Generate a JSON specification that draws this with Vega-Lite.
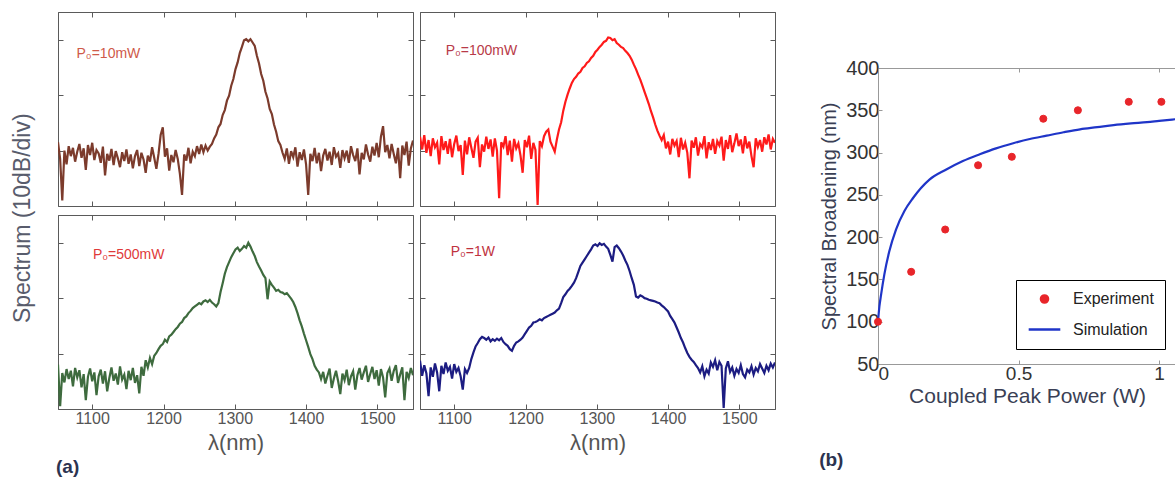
{
"$schema": "https://vega.github.io/schema/vega-lite/v6.json",
"padding": {"left": 11, "top": 11, "right": 0, "bottom": 0},
"background": "white",
"config": {
  "font": "Liberation Sans",
  "view": {"stroke": "#666", "strokeWidth": 1},
  "axis": {"grid": false, "domainColor": "#5a5a5a", "tickColor": "#5a5a5a", "labelFont": "Liberation Sans", "titleFont": "Liberation Sans", "titleFontWeight": "normal", "labelColor": "#555", "titleColor": "#555"},
  "title": {"font": "Liberation Sans"},
  "legend": {"labelFont": "Liberation Sans"}
},
"datasets": {
"spec": [
{"w":1052,"a":-18.5,"b":-17.5,"c":-22,"d":-21.3},
{"w":1055,"a":-21.5,"b":-19.8,"c":-29.5,"d":-24},
{"w":1058,"a":-29,"b":-17.2,"c":-23.5,"d":-22.1},
{"w":1061,"a":-20,"b":-20.4,"c":-25.2,"d":-23.6},
{"w":1064,"a":-22.5,"b":-18.1,"c":-22.8,"d":-27.7},
{"w":1067,"a":-19.2,"b":-21,"c":-24.6,"d":-22.5},
{"w":1070,"a":-21,"b":-17.8,"c":-23.1,"d":-24.2},
{"w":1073,"a":-19.5,"b":-19.4,"c":-25.9,"d":-21.8},
{"w":1076,"a":-22,"b":-18.6,"c":-22.6,"d":-23.4},
{"w":1079,"a":-20.2,"b":-22.5,"c":-24.3,"d":-26.8},
{"w":1082,"a":-18.8,"b":-17.4,"c":-23,"d":-22.2},
{"w":1085,"a":-21.3,"b":-19.9,"c":-26.1,"d":-23.7},
{"w":1088,"a":-19.6,"b":-18.3,"c":-23.7,"d":-21.6},
{"w":1091,"a":-23.5,"b":-20.6,"c":-28.4,"d":-23.1},
{"w":1094,"a":-19,"b":-17.9,"c":-24.2,"d":-22.4},
{"w":1097,"a":-20.8,"b":-21.2,"c":-22.7,"d":-24.5},
{"w":1100,"a":-18.6,"b":-18.8,"c":-25,"d":-21.9},
{"w":1103,"a":-21.7,"b":-17.3,"c":-23.4,"d":-23.3},
{"w":1106,"a":-19.9,"b":-20.1,"c":-27.5,"d":-22.6},
{"w":1109,"a":-20.5,"b":-19,"c":-24.1,"d":-24.1},
{"w":1112,"a":-22.2,"b":-24.4,"c":-22.9,"d":-26.5},
{"w":1115,"a":-19.3,"b":-18.2,"c":-25.4,"d":-22.8},
{"w":1118,"a":-24.5,"b":-20.7,"c":-23.2,"d":-23.5},
{"w":1121,"a":-20.6,"b":-17.6,"c":-26.8,"d":-22.6},
{"w":1124,"a":-21.8,"b":-19.5,"c":-24.4,"d":-21},
{"w":1127,"a":-19.7,"b":-21.3,"c":-22.5,"d":-19.8},
{"w":1130,"a":-22.6,"b":-18.4,"c":-24.9,"d":-18.7},
{"w":1133,"a":-20.1,"b":-17.7,"c":-23.6,"d":-18.1},
{"w":1136,"a":-21.4,"b":-23,"c":-25.6,"d":-17.4},
{"w":1139,"a":-23,"b":-18.9,"c":-22.3,"d":-17},
{"w":1142,"a":-20.3,"b":-20.2,"c":-24.7,"d":-17.2},
{"w":1145,"a":-21.9,"b":-17.5,"c":-23.8,"d":-17.5},
{"w":1148,"a":-19.8,"b":-19.7,"c":-26.4,"d":-17.1},
{"w":1151,"a":-22.4,"b":-18,"c":-23.1,"d":-17.8},
{"w":1154,"a":-20.7,"b":-21.1,"c":-24.8,"d":-17.4},
{"w":1157,"a":-23.2,"b":-17.8,"c":-22.6,"d":-17.7},
{"w":1160,"a":-21,"b":-20,"c":-25.3,"d":-17.3},
{"w":1163,"a":-19.9,"b":-28.6,"c":-23.9,"d":-17.6},
{"w":1166,"a":-22.8,"b":-18.5,"c":-27.2,"d":-17.2},
{"w":1169,"a":-20.4,"b":-19.3,"c":-22.4,"d":-17.9},
{"w":1172,"a":-21.6,"b":-17.4,"c":-24,"d":-18.3},
{"w":1175,"a":-24,"b":-20.8,"c":-21.2,"d":-18.6},
{"w":1178,"a":-20.9,"b":-18.2,"c":-22.5,"d":-19.2},
{"w":1181,"a":-22,"b":-22,"c":-20.8,"d":-19.5},
{"w":1184,"a":-19.4,"b":-17.9,"c":-21.9,"d":-18.6},
{"w":1187,"a":-21.3,"b":-19.6,"c":-20.4,"d":-18},
{"w":1190,"a":-23.3,"b":-18.7,"c":-19.9,"d":-17.8},
{"w":1193,"a":-20.6,"b":-20.9,"c":-19.2,"d":-17.5},
{"w":1196,"a":-17.2,"b":-24,"c":-18.6,"d":-17.1},
{"w":1199,"a":-15.8,"b":-18.1,"c":-18.3,"d":-16.5},
{"w":1202,"a":-21.1,"b":-19.4,"c":-17.5,"d":-15.9},
{"w":1205,"a":-19.6,"b":-17.3,"c":-17.9,"d":-15.3},
{"w":1208,"a":-23.6,"b":-21.5,"c":-16.9,"d":-15},
{"w":1211,"a":-20.8,"b":-18.6,"c":-16.6,"d":-14.4},
{"w":1214,"a":-22.1,"b":-19.9,"c":-16.1,"d":-14.3},
{"w":1217,"a":-19.9,"b":-29.8,"c":-15.6,"d":-14.1},
{"w":1220,"a":-21.5,"b":-18.3,"c":-15.2,"d":-13.8},
{"w":1223,"a":-24.2,"b":-19.2,"c":-14.6,"d":-14},
{"w":1226,"a":-28,"b":-17.4,"c":-14.3,"d":-13.6},
{"w":1229,"a":-20.7,"b":-16.6,"c":-13.6,"d":-13.4},
{"w":1232,"a":-21.8,"b":-16.2,"c":-13.3,"d":-13.2},
{"w":1235,"a":-19.5,"b":-18.4,"c":-12.7,"d":-13},
{"w":1238,"a":-22.3,"b":-19.3,"c":-12.3,"d":-12.8},
{"w":1241,"a":-20.2,"b":-20.2,"c":-11.8,"d":-12.6},
{"w":1244,"a":-21,"b":-18,"c":-11.5,"d":-12.2},
{"w":1247,"a":-19.2,"b":-16.2,"c":-11.2,"d":-11.9},
{"w":1250,"a":-20.6,"b":-14.9,"c":-10.9,"d":-10.9},
{"w":1253,"a":-18.9,"b":-12.8,"c":-11.1,"d":-9.8},
{"w":1256,"a":-20.3,"b":-11.2,"c":-10.6,"d":-9.3},
{"w":1259,"a":-19.1,"b":-9.9,"c":-10.4,"d":-8.7},
{"w":1262,"a":-20,"b":-8.8,"c":-10.7,"d":-8.3},
{"w":1265,"a":-19.3,"b":-7.8,"c":-10.3,"d":-7.8},
{"w":1268,"a":-18.8,"b":-7.1,"c":-10.8,"d":-7.2},
{"w":1271,"a":-17.8,"b":-6.7,"c":-11.1,"d":-6.4},
{"w":1274,"a":-17.1,"b":-6.1,"c":-11.5,"d":-5.3},
{"w":1277,"a":-15.8,"b":-5.8,"c":-10.9,"d":-4.2},
{"w":1280,"a":-15.2,"b":-5.1,"c":-8.9,"d":-3.6},
{"w":1283,"a":-13.6,"b":-4.8,"c":-7.3,"d":-3},
{"w":1286,"a":-12.7,"b":-4.2,"c":-5.6,"d":-2.4},
{"w":1289,"a":-11,"b":-3.9,"c":-4.4,"d":-1.8},
{"w":1292,"a":-10.1,"b":-3.3,"c":-3.5,"d":-1.2},
{"w":1295,"a":-8.3,"b":-2.9,"c":-2.6,"d":-0.5},
{"w":1298,"a":-7.1,"b":-2.2,"c":-1.9,"d":-0.3},
{"w":1301,"a":-5.3,"b":-1.8,"c":-1.2,"d":-0.6},
{"w":1304,"a":-4.1,"b":-1.3,"c":-0.9,"d":-0.1},
{"w":1307,"a":-2.4,"b":-0.9,"c":-1.5,"d":-0.4},
{"w":1310,"a":-1.3,"b":-0.4,"c":-1.1,"d":-0.2},
{"w":1313,"a":-0.1,"b":-0.2,"c":-0.6,"d":-0.7},
{"w":1316,"a":0.1,"b":0.4,"c":-0.9,"d":-1.1},
{"w":1319,"a":-0.3,"b":0.3,"c":0,"d":-2.2},
{"w":1322,"a":0.1,"b":-0.1,"c":-0.7,"d":-3.4},
{"w":1325,"a":-0.5,"b":0.1,"c":-1.6,"d":-0.8},
{"w":1328,"a":-1.1,"b":-0.6,"c":-2.4,"d":-0.5},
{"w":1331,"a":-2.9,"b":-0.9,"c":-3.5,"d":-1},
{"w":1334,"a":-4.3,"b":-1.3,"c":-4.3,"d":-1.6},
{"w":1337,"a":-6.2,"b":-1.5,"c":-5,"d":-2.3},
{"w":1340,"a":-7.4,"b":-2,"c":-5.8,"d":-3.2},
{"w":1343,"a":-9.4,"b":-2.4,"c":-6.4,"d":-4},
{"w":1346,"a":-10.6,"b":-2.9,"c":-10.2,"d":-5.1},
{"w":1349,"a":-12.5,"b":-3.6,"c":-7,"d":-6.4},
{"w":1352,"a":-13.4,"b":-4.5,"c":-7.6,"d":-7.6},
{"w":1355,"a":-15.3,"b":-5.3,"c":-8.1,"d":-9.7},
{"w":1358,"a":-16.6,"b":-6.3,"c":-8.7,"d":-9.9},
{"w":1361,"a":-18.3,"b":-7.2,"c":-8.5,"d":-9.5},
{"w":1364,"a":-19,"b":-8.3,"c":-8.9,"d":-9.7},
{"w":1367,"a":-20.4,"b":-9.4,"c":-9,"d":-10},
{"w":1370,"a":-21.5,"b":-10.5,"c":-9.3,"d":-10.1},
{"w":1373,"a":-19.6,"b":-11.6,"c":-9.1,"d":-10.3},
{"w":1376,"a":-22.4,"b":-12.9,"c":-9.6,"d":-10.4},
{"w":1379,"a":-20.1,"b":-14,"c":-10.1,"d":-10.5},
{"w":1382,"a":-21.2,"b":-15.3,"c":-10.7,"d":-10.6},
{"w":1385,"a":-19.4,"b":-16.4,"c":-11.6,"d":-10.8},
{"w":1388,"a":-22.9,"b":-17.3,"c":-12.7,"d":-10.9},
{"w":1391,"a":-20.3,"b":-18.1,"c":-14,"d":-11.3},
{"w":1394,"a":-21.7,"b":-17.2,"c":-15.1,"d":-11.6},
{"w":1397,"a":-19.8,"b":-19.6,"c":-16.4,"d":-12},
{"w":1400,"a":-22.5,"b":-18.4,"c":-17.6,"d":-12.4},
{"w":1403,"a":-28,"b":-20.7,"c":-18.8,"d":-13.2},
{"w":1406,"a":-20.6,"b":-17.9,"c":-20.1,"d":-13.8},
{"w":1409,"a":-21.9,"b":-19.1,"c":-21,"d":-14.4},
{"w":1412,"a":-19.5,"b":-18.3,"c":-22.2,"d":-15.3},
{"w":1415,"a":-22.3,"b":-21.2,"c":-22.9,"d":-16.2},
{"w":1418,"a":-20.4,"b":-17.7,"c":-23.4,"d":-17.2},
{"w":1421,"a":-23.7,"b":-19.8,"c":-24.6,"d":-18},
{"w":1424,"a":-20.9,"b":-18.6,"c":-23.3,"d":-19},
{"w":1427,"a":-19.7,"b":-20.4,"c":-25.4,"d":-19.9},
{"w":1430,"a":-21.8,"b":-25,"c":-24,"d":-20.6},
{"w":1433,"a":-20.2,"b":-18.2,"c":-22.7,"d":-21.1},
{"w":1436,"a":-22.6,"b":-19.5,"c":-26.2,"d":-21.5},
{"w":1439,"a":-19.4,"b":-17.6,"c":-24.5,"d":-22.1},
{"w":1442,"a":-21.1,"b":-20.9,"c":-23.1,"d":-22.6},
{"w":1445,"a":-20.5,"b":-18.8,"c":-25,"d":-23.4},
{"w":1448,"a":-23.1,"b":-19.4,"c":-27.3,"d":-22.3},
{"w":1451,"a":-19.9,"b":-17.4,"c":-23.6,"d":-24.1},
{"w":1454,"a":-21.4,"b":-21.4,"c":-24.8,"d":-22.9},
{"w":1457,"a":-20,"b":-18.5,"c":-22.9,"d":-23.6},
{"w":1460,"a":-22.2,"b":-19.9,"c":-25.7,"d":-21.6},
{"w":1463,"a":-19.2,"b":-17.9,"c":-24.1,"d":-22.4},
{"w":1466,"a":-20.8,"b":-20.6,"c":-23.2,"d":-21.2},
{"w":1469,"a":-21.9,"b":-18.3,"c":-26.5,"d":-23},
{"w":1472,"a":-19.6,"b":-19.1,"c":-23.9,"d":-21.5},
{"w":1475,"a":-24.3,"b":-17.5,"c":-22.6,"d":-22.2},
{"w":1478,"a":-20.4,"b":-21.8,"c":-24.7,"d":-29.8},
{"w":1481,"a":-21.6,"b":-18.1,"c":-23.4,"d":-22.7},
{"w":1484,"a":-18.9,"b":-19.7,"c":-22.2,"d":-21.4},
{"w":1487,"a":-20.7,"b":-17.2,"c":-25.1,"d":-23.3},
{"w":1490,"a":-22,"b":-20.3,"c":-23.7,"d":-22.5},
{"w":1493,"a":-19.3,"b":-18.7,"c":-22.4,"d":-24},
{"w":1496,"a":-20.9,"b":-16.9,"c":-24.6,"d":-22.8},
{"w":1499,"a":-18.6,"b":-19.2,"c":-23,"d":-23.5},
{"w":1502,"a":-21.2,"b":-18,"c":-25.8,"d":-22.1},
{"w":1505,"a":-17.5,"b":-20.5,"c":-22.8,"d":-23.7},
{"w":1508,"a":-15.6,"b":-17.4,"c":-24.3,"d":-24.3},
{"w":1511,"a":-20.3,"b":-19.6,"c":-27.9,"d":-22.9},
{"w":1514,"a":-19,"b":-18.4,"c":-23.5,"d":-23.4},
{"w":1517,"a":-21.4,"b":-21,"c":-22.7,"d":-22.3},
{"w":1520,"a":-18.8,"b":-23,"c":-24.9,"d":-23.8},
{"w":1523,"a":-20.6,"b":-17.8,"c":-23.1,"d":-22.6},
{"w":1526,"a":-22.3,"b":-19.3,"c":-22.1,"d":-23.2},
{"w":1529,"a":-19.5,"b":-18.1,"c":-25.3,"d":-21.9},
{"w":1532,"a":-25,"b":-20.2,"c":-23.8,"d":-22.7},
{"w":1535,"a":-19.1,"b":-17.6,"c":-22.5,"d":-23.5},
{"w":1538,"a":-20.8,"b":-18.9,"c":-28.4,"d":-22.2},
{"w":1541,"a":-18.4,"b":-17.1,"c":-23.3,"d":-23},
{"w":1544,"a":-22.7,"b":-19.8,"c":-24.4,"d":-21.8},
{"w":1547,"a":-19.6,"b":-17.9,"c":-22.6,"d":-22.5},
{"w":1550,"a":-18.2,"b":-18.6,"c":-23.9,"d":-21.6}
],
"exp": [
{"p":0,"bw":100,"series":"Experiment"},
{"p":0.118,"bw":159,"series":"Experiment"},
{"p":0.239,"bw":209,"series":"Experiment"},
{"p":0.356,"bw":285,"series":"Experiment"},
{"p":0.476,"bw":295,"series":"Experiment"},
{"p":0.588,"bw":340,"series":"Experiment"},
{"p":0.711,"bw":350,"series":"Experiment"},
{"p":0.892,"bw":360,"series":"Experiment"},
{"p":1.008,"bw":360,"series":"Experiment"}
],
"sim": [
{"p":0,"bw":100,"series":"Simulation"},
{"p":0.005,"bw":118,"series":"Simulation"},
{"p":0.011,"bw":132,"series":"Simulation"},
{"p":0.0226,"bw":156,"series":"Simulation"},
{"p":0.04,"bw":183,"series":"Simulation"},
{"p":0.064,"bw":209,"series":"Simulation"},
{"p":0.094,"bw":231,"series":"Simulation"},
{"p":0.124,"bw":246,"series":"Simulation"},
{"p":0.183,"bw":268,"series":"Simulation"},
{"p":0.243,"bw":280,"series":"Simulation"},
{"p":0.302,"bw":290,"series":"Simulation"},
{"p":0.362,"bw":298,"series":"Simulation"},
{"p":0.42,"bw":305,"series":"Simulation"},
{"p":0.481,"bw":311,"series":"Simulation"},
{"p":0.54,"bw":316,"series":"Simulation"},
{"p":0.6,"bw":320,"series":"Simulation"},
{"p":0.66,"bw":324,"series":"Simulation"},
{"p":0.719,"bw":327.5,"series":"Simulation"},
{"p":0.78,"bw":330,"series":"Simulation"},
{"p":0.838,"bw":332.5,"series":"Simulation"},
{"p":0.9,"bw":334.5,"series":"Simulation"},
{"p":0.957,"bw":336,"series":"Simulation"},
{"p":1.0,"bw":337.5,"series":"Simulation"},
{"p":1.06,"bw":339.5,"series":"Simulation"}
]
},
"spacing": 43,
"resolve": {"scale": {"stroke": "independent", "fill": "independent", "shape": "independent", "size": "independent"}},
"hconcat": [
{
 "title": {"text": "(a)", "orient": "bottom", "anchor": "start", "fontSize": 19, "fontWeight": "bold", "color": "#2b3350", "offset": 4, "dx": 44},
 "vconcat": [
 {
  "title": {"text": "Spectrum (10dB/div)", "orient": "left", "anchor": "middle", "fontSize": 23, "fontWeight": "normal", "color": "#585c6c", "offset": 22, "dx": 14},
  "spacing": 7,
  "vconcat": [
   {"spacing": 5, "hconcat": [
    {"width": 355, "height": 194,
     "layer": [
      {"data": {"name": "spec"},
       "mark": {"type": "line", "color": "#7c3b2c", "strokeWidth": 2.2, "clip": true},
       "encoding": {
        "x": {"field": "w", "type": "quantitative", "scale": {"domain": [1052, 1550], "nice": false, "zero": false}, "axis": {"orient": "bottom", "values": [1100,1200,1300,1400,1500], "tickSize": -5, "labels": false, "title": null}},
        "y": {"field": "a", "type": "quantitative", "scale": {"domain": [-30, 5], "nice": false, "zero": false}, "axis": {"orient": "left", "values": [0,-10,-20], "tickSize": -5, "labels": false, "title": null}}
       }},
      {"data": {"values": [{}]},
       "mark": {"type": "text", "align": "left", "baseline": "alphabetic", "fontSize": 14, "color": "#cf5a4a"},
       "encoding": {
        "x": {"datum": 1078, "type": "quantitative", "axis": {"orient": "top", "values": [1100,1200,1300,1400,1500], "tickSize": -5, "labels": false, "title": null}},
        "y": {"datum": -3.3, "type": "quantitative", "axis": {"orient": "right", "values": [0,-10,-20], "tickSize": -5, "labels": false, "title": null}},
        "text": {"value": "P₀=10mW"}
       }}
     ],
     "resolve": {"axis": {"x": "independent", "y": "independent"}}
    },
    {"width": 355, "height": 194,
     "layer": [
      {"data": {"name": "spec"},
       "mark": {"type": "line", "color": "#ff1a1a", "strokeWidth": 2.2, "clip": true},
       "encoding": {
        "x": {"field": "w", "type": "quantitative", "scale": {"domain": [1052, 1550], "nice": false, "zero": false}, "axis": {"orient": "bottom", "values": [1100,1200,1300,1400,1500], "tickSize": -5, "labels": false, "title": null}},
        "y": {"field": "b", "type": "quantitative", "scale": {"domain": [-30, 5], "nice": false, "zero": false}, "axis": {"orient": "left", "values": [0,-10,-20], "tickSize": -5, "labels": false, "title": null}}
       }},
      {"data": {"values": [{}]},
       "mark": {"type": "text", "align": "left", "baseline": "alphabetic", "fontSize": 14, "color": "#b83a48"},
       "encoding": {
        "x": {"datum": 1088, "type": "quantitative", "axis": {"orient": "top", "values": [1100,1200,1300,1400,1500], "tickSize": -5, "labels": false, "title": null}},
        "y": {"datum": -2.7, "type": "quantitative", "axis": {"orient": "right", "values": [0,-10,-20], "tickSize": -5, "labels": false, "title": null}},
        "text": {"value": "P₀=100mW"}
       }}
     ],
     "resolve": {"axis": {"x": "independent", "y": "independent"}}
    }
   ]},
   {"spacing": 5, "hconcat": [
    {"width": 355, "height": 194,
     "layer": [
      {"data": {"name": "spec"},
       "mark": {"type": "line", "color": "#3e6b3e", "strokeWidth": 2.2, "clip": true},
       "encoding": {
        "x": {"field": "w", "type": "quantitative", "scale": {"domain": [1052, 1550], "nice": false, "zero": false}, "axis": {"orient": "bottom", "values": [1100,1200,1300,1400,1500], "format": "d", "tickSize": -5, "labels": true, "labelFontSize": 16, "labelDx": -6, "labelPadding": 6, "title": "λ(nm)", "titleFontSize": 22, "titlePadding": 6}},
        "y": {"field": "c", "type": "quantitative", "scale": {"domain": [-30, 5], "nice": false, "zero": false}, "axis": {"orient": "left", "values": [0,-10,-20], "tickSize": -5, "labels": false, "title": null}}
       }},
      {"data": {"values": [{}]},
       "mark": {"type": "text", "align": "left", "baseline": "alphabetic", "fontSize": 14, "color": "#e03a3a"},
       "encoding": {
        "x": {"datum": 1101, "type": "quantitative", "axis": {"orient": "top", "values": [1100,1200,1300,1400,1500], "tickSize": -5, "labels": false, "title": null}},
        "y": {"datum": -2.9, "type": "quantitative", "axis": {"orient": "right", "values": [0,-10,-20], "tickSize": -5, "labels": false, "title": null}},
        "text": {"value": "P₀=500mW"}
       }}
     ],
     "resolve": {"axis": {"x": "independent", "y": "independent"}}
    },
    {"width": 355, "height": 194,
     "layer": [
      {"data": {"name": "spec"},
       "mark": {"type": "line", "color": "#1c1c82", "strokeWidth": 2.2, "clip": true},
       "encoding": {
        "x": {"field": "w", "type": "quantitative", "scale": {"domain": [1052, 1550], "nice": false, "zero": false}, "axis": {"orient": "bottom", "values": [1100,1200,1300,1400,1500], "format": "d", "tickSize": -5, "labels": true, "labelFontSize": 16, "labelDx": -6, "labelPadding": 6, "title": "λ(nm)", "titleFontSize": 22, "titlePadding": 6}},
        "y": {"field": "d", "type": "quantitative", "scale": {"domain": [-30, 5], "nice": false, "zero": false}, "axis": {"orient": "left", "values": [0,-10,-20], "tickSize": -5, "labels": false, "title": null}}
       }},
      {"data": {"values": [{}]},
       "mark": {"type": "text", "align": "left", "baseline": "alphabetic", "fontSize": 14, "color": "#c0323e"},
       "encoding": {
        "x": {"datum": 1095, "type": "quantitative", "axis": {"orient": "top", "values": [1100,1200,1300,1400,1500], "tickSize": -5, "labels": false, "title": null}},
        "y": {"datum": -2.4, "type": "quantitative", "axis": {"orient": "right", "values": [0,-10,-20], "tickSize": -5, "labels": false, "title": null}},
        "text": {"value": "P₀=1W"}
       }}
     ],
     "resolve": {"axis": {"x": "independent", "y": "independent"}}
    }
   ]}
  ]
 }
 ]
},
{
 "title": {"text": "(b)", "orient": "bottom", "anchor": "start", "fontSize": 19, "fontWeight": "bold", "color": "#2b3350", "offset": 44},
 "spacing": 10,
 "resolve": {"scale": {"stroke": "independent", "fill": "independent", "shape": "independent", "size": "independent"}},
 "vconcat": [
 {
  "width": 10, "height": 35,
  "view": {"stroke": null},
  "data": {"values": [{}]},
  "mark": {"type": "point", "opacity": 0},
  "encoding": {}
 },
 {
  "width": 298, "height": 296,
  "layer": [
   {"data": {"name": "sim"},
    "mark": {"type": "line", "strokeWidth": 2.2, "interpolate": "monotone"},
    "encoding": {
     "x": {"field": "p", "type": "quantitative", "scale": {"domain": [0, 1.06], "nice": false, "zero": false}, "axis": {"orient": "bottom", "values": [0, 0.5, 1], "format": "~g", "tickSize": -4, "domainColor": "#999", "tickColor": "#999", "labelFontSize": 19, "labelColor": "#333", "labelPadding": 4, "title": "Coupled Peak Power (W)", "titleFontSize": 21, "titleColor": "#3a3f55", "titlePadding": 2}},
     "y": {"field": "bw", "type": "quantitative", "scale": {"domain": [50, 400], "nice": false, "zero": false}, "axis": {"orient": "left", "values": [50,100,150,200,250,300,350,400], "tickSize": -4, "domainColor": "#999", "tickColor": "#999", "labelFontSize": 20, "labelColor": "#333", "labelPadding": 3, "title": "Spectral Broadening (nm)", "titleFontSize": 20, "titleColor": "#3a3f55", "titlePadding": 6}},
     "stroke": {"field": "series", "type": "nominal", "scale": {"domain": ["Experiment", "Simulation"], "range": ["#e8252a", "#1f35c8"]}, "legend": {"title": null, "orient": "none", "legendX": 138, "legendY": 212, "strokeColor": "black", "fillColor": "white", "padding": 11, "labelFontSize": 16, "labelColor": "#222", "symbolStrokeWidth": 2.5, "rowPadding": 4, "labelOffset": 11}}
    }},
   {"data": {"name": "exp"},
    "mark": {"type": "point", "filled": true, "opacity": 1, "strokeWidth": 1},
    "encoding": {
     "x": {"field": "p", "type": "quantitative", "axis": {"orient": "top", "values": [0, 0.5, 1], "tickSize": -4, "domainColor": "#999", "tickColor": "#999", "labels": false, "title": null}},
     "y": {"field": "bw", "type": "quantitative", "axis": null},
     "fill": {"field": "series", "type": "nominal", "scale": {"domain": ["Experiment", "Simulation"], "range": ["#e8252a", "#1f35c8"]}, "legend": {"title": null, "orient": "none", "legendX": 138, "legendY": 212, "strokeColor": "black", "fillColor": "white", "padding": 11, "labelFontSize": 16, "labelColor": "#222", "symbolStrokeWidth": 2.5, "rowPadding": 4, "labelOffset": 11}},
     "stroke": {"field": "series", "type": "nominal", "scale": {"domain": ["Experiment", "Simulation"], "range": ["#e8252a", "#1f35c8"]}, "legend": {"title": null, "orient": "none", "legendX": 138, "legendY": 212, "strokeColor": "black", "fillColor": "white", "padding": 11, "labelFontSize": 16, "labelColor": "#222", "symbolStrokeWidth": 2.5, "rowPadding": 4, "labelOffset": 11}},
     "shape": {"field": "series", "type": "nominal", "scale": {"domain": ["Experiment", "Simulation"], "range": ["circle", "stroke"]}, "legend": {"title": null, "orient": "none", "legendX": 138, "legendY": 212, "strokeColor": "black", "fillColor": "white", "padding": 11, "labelFontSize": 16, "labelColor": "#222", "symbolStrokeWidth": 2.5, "rowPadding": 4, "labelOffset": 11}},
     "size": {"field": "series", "type": "nominal", "scale": {"domain": ["Experiment", "Simulation"], "range": [50, 1000]}, "legend": {"title": null, "orient": "none", "legendX": 138, "legendY": 212, "strokeColor": "black", "fillColor": "white", "padding": 11, "labelFontSize": 16, "labelColor": "#222", "symbolStrokeWidth": 2.5, "rowPadding": 4, "labelOffset": 11}}
    }}
  ],
  "resolve": {"axis": {"x": "independent", "y": "independent"}}
 }
 ]
}
]
}
